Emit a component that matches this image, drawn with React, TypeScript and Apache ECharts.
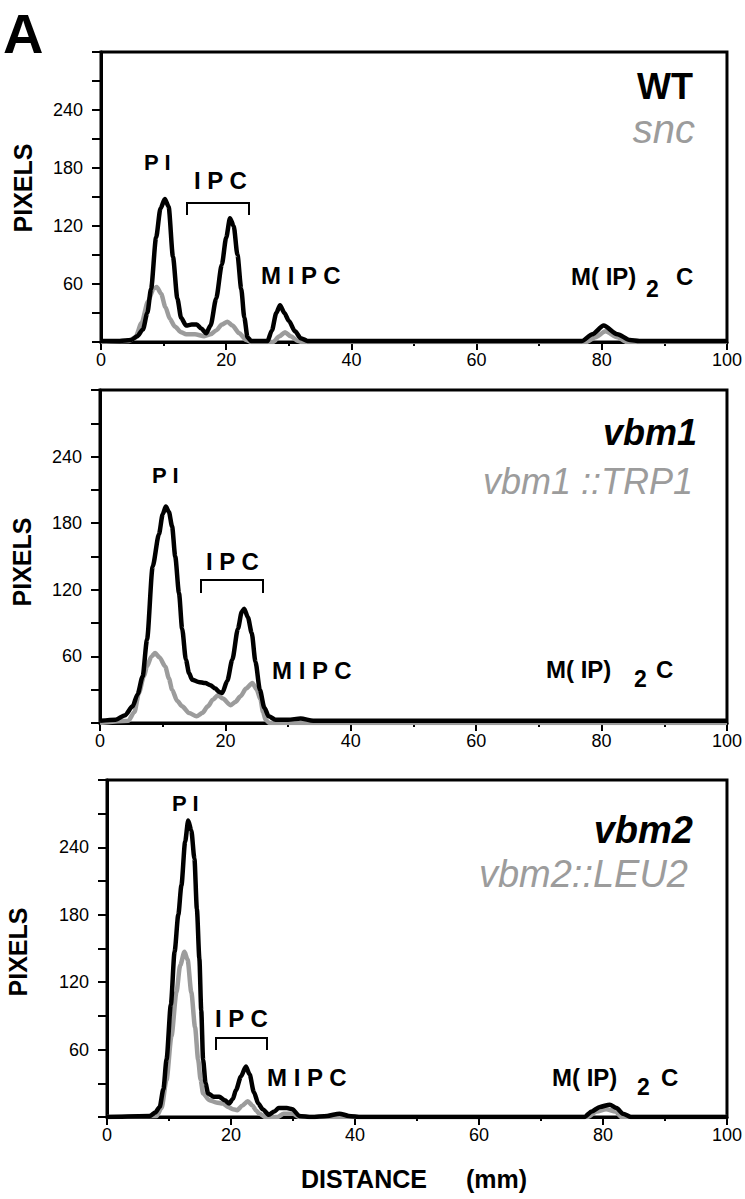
import React, { useEffect, useRef } from "react";
import * as echarts from "echarts";

// ---------- DATA (distance mm, pixels) ----------
const xTicks = [0, 20, 40, 60, 80, 100];
const yLabelValues = [60, 120, 180, 240];

const wtBlack: number[][] = [
  [0, 1], [3, 1], [4.8, 2], [5.8, 6], [6.7, 13], [7.4, 30], [8.0, 55], [8.8, 108], [9.5, 138], [10.2, 148],
  [10.8, 140], [11.5, 88], [12.2, 45], [12.8, 25], [13.6, 17], [14.5, 18], [15.3, 18], [16.0, 14], [16.8, 9],
  [17.5, 17], [18.4, 45], [19.3, 80], [20.0, 108], [20.6, 128], [21.2, 120], [21.8, 90], [22.4, 55], [22.9, 25],
  [23.4, 5], [24, 1], [26.6, 1], [27.3, 12], [28.0, 30], [28.6, 38], [29.3, 30], [30.0, 22], [31.0, 11],
  [31.9, 4], [33, 1], [76.8, 1], [78.5, 8], [80.3, 17], [82.5, 8], [84.5, 2], [86, 1], [100, 1],
];
const sncGrey: number[][] = [
  [0, 0], [4.5, 1], [5.5, 5], [6.5, 20], [7.5, 42], [8.4, 55], [8.9, 57], [9.6, 50], [10.3, 36], [11.0, 24],
  [11.8, 16], [12.8, 10], [13.6, 8], [15, 8], [16.5, 6], [17.5, 8], [18.4, 12], [19.3, 18], [20.2, 21],
  [21.0, 17], [22.1, 9], [23.2, 2], [24, 0], [27.5, 0], [28.5, 6], [29.4, 10], [30.3, 6], [31.5, 1], [32, 0],
  [77.5, 0], [79, 5], [80.6, 11], [82.5, 5], [84, 0], [100, 0],
];

const vbm1Black: number[][] = [
  [0, 2], [2.5, 3], [4, 7], [5.2, 15], [6.0, 26], [6.8, 42], [7.5, 75], [8.4, 141], [9.4, 170], [10.0, 188],
  [10.5, 195], [11.0, 190], [11.5, 177], [12.0, 150], [12.6, 117], [13.1, 85], [13.7, 57], [14.2, 45],
  [14.7, 39], [15.7, 37], [16.8, 36], [17.6, 34], [18.4, 31], [19.0, 28], [19.5, 27], [20.3, 38], [21.1, 57],
  [22.0, 85], [22.6, 100], [23.0, 103], [23.6, 95], [24.2, 81], [24.8, 55], [25.5, 30], [26.2, 14], [26.9, 6],
  [28, 3], [30, 3], [32, 4], [34, 2], [40, 2], [100, 2],
];
const vbm1TrpGrey: number[][] = [
  [0, 0], [4.5, 2], [5.5, 10], [6.2, 27], [7.0, 42], [7.5, 51], [8.2, 60], [8.8, 63], [9.5, 59], [10.4, 51],
  [11.0, 40], [11.5, 30], [12.3, 20], [13.1, 15], [14.2, 9], [15.4, 6], [16.3, 9], [17.2, 15], [18.0, 21],
  [18.8, 25], [19.6, 22], [20.8, 16], [21.6, 19], [22.4, 24], [23.3, 31], [24.3, 36], [25.0, 30], [25.6, 21],
  [26.0, 10], [26.4, 3], [27, 0], [100, 0],
];

const vbm2Black: number[][] = [
  [0, 0], [6.9, 1], [7.8, 4], [8.5, 9], [9.1, 25], [9.6, 51], [10.3, 100], [10.9, 147], [11.5, 180],
  [12.0, 206], [12.6, 245], [13.1, 264], [13.6, 255], [14.1, 230], [14.5, 185], [14.9, 141], [15.2, 95],
  [15.5, 51], [15.9, 30], [16.3, 21], [17.2, 18], [18.1, 18], [19.0, 15], [19.7, 12], [20.3, 16], [20.8, 24],
  [21.6, 36], [22.4, 45], [23.0, 38], [23.7, 22], [24.4, 12], [25.1, 7], [26.1, 2], [27.0, 5], [27.7, 8],
  [29.0, 8], [29.9, 7], [31, 1], [33, 0], [35.5, 1], [37.5, 3], [39, 1], [41, 0], [77, 0], [78.2, 5],
  [79.5, 9], [81.1, 11], [82.2, 8], [83.2, 3], [84.5, 0], [100, 0],
];
const vbm2LeuGrey: number[][] = [
  [0, 0], [8.0, 1], [8.8, 8], [9.6, 33], [10.4, 72], [11.2, 111], [11.8, 135], [12.5, 147], [13.0, 140],
  [13.6, 111], [14.2, 80], [14.7, 51], [15.1, 33], [15.5, 21], [16.5, 15], [17.6, 13], [18.7, 12], [19.5, 9],
  [20.3, 7], [21.0, 6], [21.8, 10], [22.7, 14], [23.5, 10], [24.0, 6], [24.6, 3], [25.5, 0], [27.5, 0],
  [28.5, 3], [30, 3], [31, 0], [77.5, 0], [79, 5], [80.5, 7], [82, 5], [83, 0], [100, 0],
];

const panelNames = [
  ["WT", "snc"],
  ["vbm1", "vbm1 ::TRP1"],
  ["vbm2", "vbm2::LEU2"],
];

const FONT = "'Liberation Sans', Arial, Helvetica, sans-serif";
const GREY = "#9c9c9c";

function txt(text: string, x: number, y: number, size: number, opts: any = {}) {
  return {
    type: "text",
    x,
    y,
    rotation: opts.rotation || 0,
    style: {
      text,
      fontSize: size,
      fontWeight: opts.weight || "bold",
      fontStyle: opts.style || "normal",
      fontFamily: FONT,
      fill: opts.fill || "#000",
      align: opts.align || "left",
      textAlign: opts.align || "left",
      verticalAlign: "middle",
      textVerticalAlign: "middle",
    },
  };
}

function bracket(x1: number, x2: number, yTop: number, yBot: number) {
  return {
    type: "polyline",
    shape: { points: [[x1, yBot], [x1, yTop], [x2, yTop], [x2, yBot]] },
    style: { stroke: "#000", lineWidth: 2, fill: null },
  };
}

export default function App() {
  const ref = useRef<HTMLDivElement>(null);
  useEffect(() => {
    if (!ref.current) return;
    const chart = echarts.init(ref.current, null, { renderer: "svg" });

    const grids = [
      { left: 101, top: 52, right: 14, height: 290 },
      { left: 100, top: 390, right: 16, height: 333 },
      { left: 107, top: 780, right: 14, height: 337 },
    ];
    const blacks = [wtBlack, vbm1Black, vbm2Black];
    const greys = [sncGrey, vbm1TrpGrey, vbm2LeuGrey];

    const xAxis = grids.map((_, i) => ({
      type: "value",
      gridIndex: i,
      min: xTicks[0],
      max: xTicks[xTicks.length - 1],
      interval: 20,
      axisLine: { show: true, lineStyle: { color: "#000", width: 3 } },
      axisTick: { show: true, length: 8, lineStyle: { color: "#000", width: 2 } },
      minorTick: { show: true, splitNumber: 2, length: 4, lineStyle: { color: "#000", width: 2 } },
      splitLine: { show: false },
      axisLabel: { color: "#000", fontSize: 18, fontFamily: FONT, margin: 9 },
    }));
    const yAxis = grids.map((_, i) => ({
      type: "value",
      gridIndex: i,
      min: 0,
      max: 300,
      interval: 30,
      axisLine: { show: true, lineStyle: { color: "#000", width: 3 } },
      axisTick: { show: true, length: 9, lineStyle: { color: "#000", width: 2 } },
      splitLine: { show: false },
      axisLabel: {
        color: "#000",
        fontSize: 18,
        fontFamily: FONT,
        margin: 18,
        formatter: (v: number) => (yLabelValues.includes(v) ? String(v) : ""),
      },
    }));

    const series: any[] = [];
    grids.forEach((_, i) => {
      series.push({
        type: "line",
        name: panelNames[i][1],
        xAxisIndex: i,
        yAxisIndex: i,
        data: greys[i],
        showSymbol: false,
        smooth: 0.25,
        smoothMonotone: "x",
        lineStyle: { color: GREY, width: 4.5 },
        z: 2,
      });
      series.push({
        type: "line",
        name: panelNames[i][0],
        xAxisIndex: i,
        yAxisIndex: i,
        data: blacks[i],
        showSymbol: false,
        smooth: 0.25,
        smoothMonotone: "x",
        lineStyle: { color: "#000", width: 4.5 },
        z: 3,
      });
    });

    const graphic: any[] = [
      txt("A", 3, 33, 56),
      // y-axis titles
      txt("PIXELS", 23, 188, 25, { rotation: Math.PI / 2, align: "center" }),
      txt("PIXELS", 22, 562, 25, { rotation: Math.PI / 2, align: "center" }),
      txt("PIXELS", 18, 952, 25, { rotation: Math.PI / 2, align: "center" }),
      // x-axis title
      txt("DISTANCE", 301, 1179, 25),
      txt("(mm)", 466, 1179, 25),
      // Panel 1
      txt(panelNames[0][0], 693, 86, 36, { align: "right" }),
      txt(panelNames[0][1], 695, 129, 40, { align: "right", weight: "normal", style: "italic", fill: GREY }),
      txt("P I", 144, 162, 22),
      txt("I P C", 194, 180, 24),
      bracket(187, 249, 203, 215),
      txt("M I P C", 261, 275, 24),
      txt("M( IP)", 571, 276, 24),
      txt("2", 646, 289, 23),
      txt("C", 676, 276, 24),
      // Panel 2
      txt(panelNames[1][0], 697, 432, 36, { align: "right", style: "italic" }),
      txt(panelNames[1][1], 693, 481, 36, { align: "right", weight: "normal", style: "italic", fill: GREY }),
      txt("P I", 152, 475, 22),
      txt("I P C", 206, 561, 24),
      bracket(201, 263, 580, 593),
      txt("M I P C", 272, 670, 24),
      txt("M( IP)", 546, 669, 24),
      txt("2", 634, 679, 23),
      txt("C", 656, 669, 24),
      // Panel 3
      txt(panelNames[2][0], 693, 830, 38, { align: "right", style: "italic" }),
      txt(panelNames[2][1], 688, 874, 38, { align: "right", weight: "normal", style: "italic", fill: GREY }),
      txt("P I", 172, 803, 22),
      txt("I P C", 215, 1018, 24),
      bracket(216, 267, 1038, 1050),
      txt("M I P C", 267, 1077, 24),
      txt("M( IP)", 552, 1077, 24),
      txt("2", 637, 1087, 23),
      txt("C", 661, 1077, 24),
    ];

    chart.setOption({
      animation: false,
      backgroundColor: "#fff",
      grid: grids.map((g) => ({ ...g, show: true, borderColor: "#000", borderWidth: 3, containLabel: false })),
      xAxis,
      yAxis,
      series,
      graphic,
    });
    return () => chart.dispose();
  }, []);
  return (
    <div
      ref={ref}
      style={{ position: "fixed", left: 0, top: 0, width: 745, height: 1199, background: "#fff" }}
    />
  );
}
